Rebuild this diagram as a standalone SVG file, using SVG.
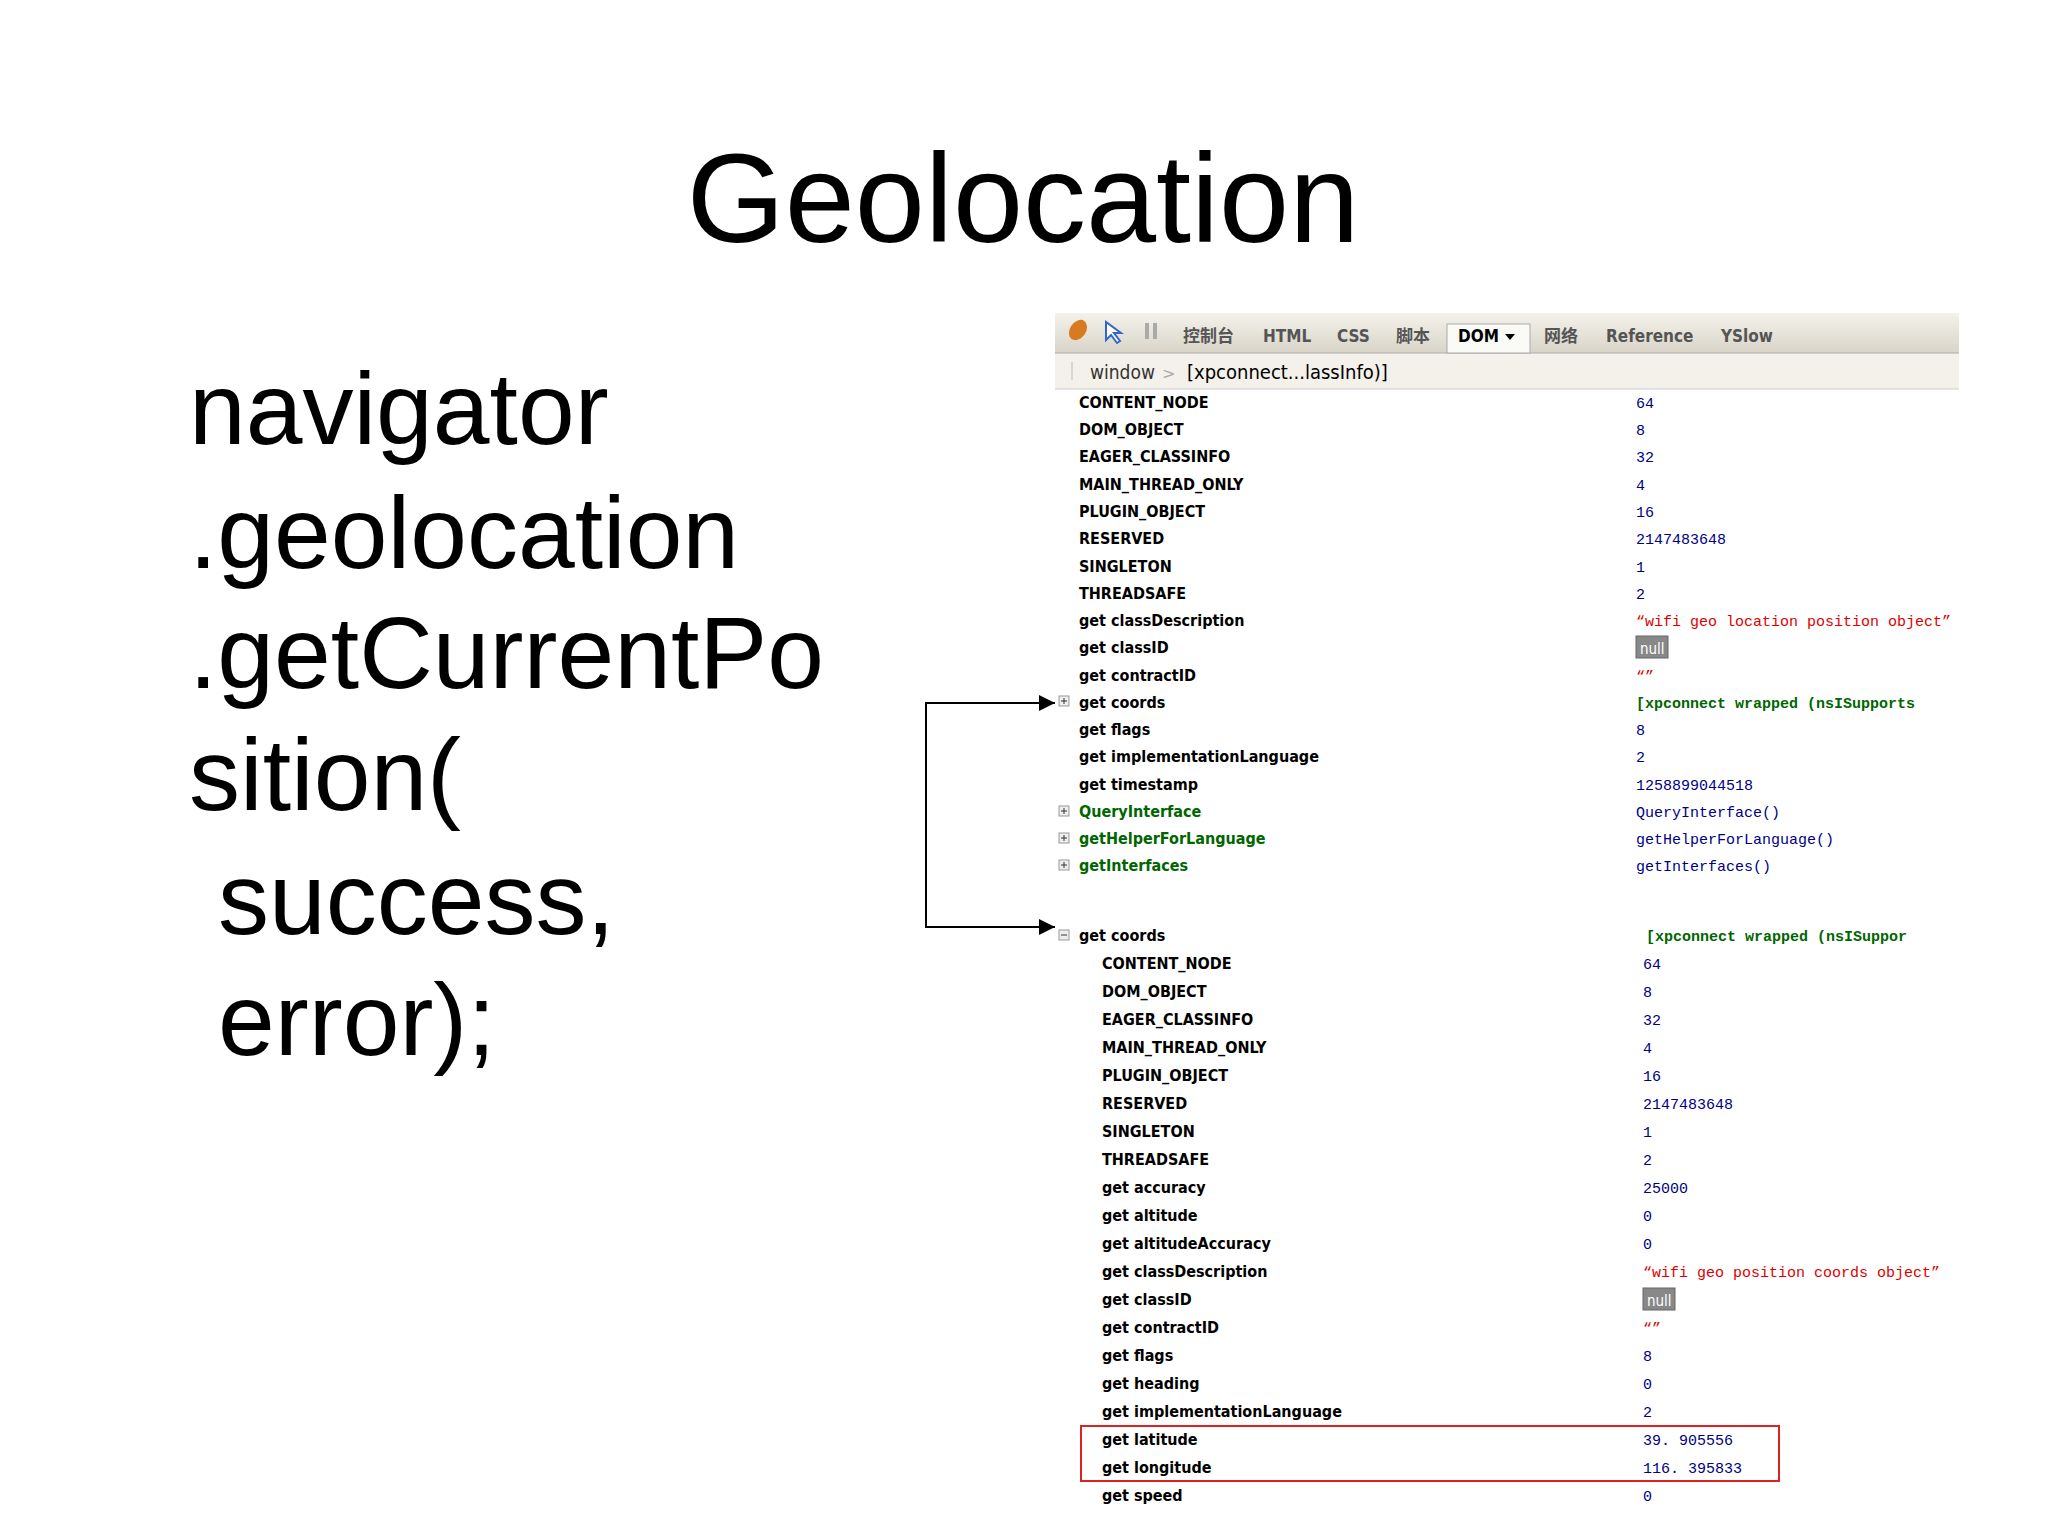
<svg xmlns="http://www.w3.org/2000/svg" width="2048" height="1536" viewBox="0 0 2048 1536">
<style>
.big{font-family:"Liberation Sans",Arial,sans-serif;font-size:102px;fill:#000}
.tb{font-family:"DejaVu Sans Condensed","Noto Sans CJK SC",sans-serif;font-size:17px;font-weight:bold;fill:#555}
.n{font-family:"DejaVu Sans Condensed",sans-serif;font-size:16px;font-weight:bold;fill:#000}
.g{fill:#006600}
.v{font-family:"Liberation Mono",monospace;font-size:15px;fill:#000088}
.vr{fill:#dd0000}
.vg{fill:#006600;font-weight:bold}
.pb{fill:#eee;stroke:#999;stroke-width:1}
.c{stroke:#000;stroke-width:2;fill:none}
</style>
<defs>
<marker id="a" viewBox="0 0 10 10" refX="10" refY="5" markerWidth="16" markerHeight="16" markerUnits="userSpaceOnUse" orient="auto"><path d="M0,0L10,5L0,10z" fill="#000"/></marker>
<linearGradient id="tg" x1="0" y1="0" x2="0" y2="1"><stop offset="0" stop-color="#f4f2ea"/><stop offset="1" stop-color="#d8d4c8"/></linearGradient></defs>
<rect width="2048" height="1536" fill="#fff"/>
<text x="1023" y="242" text-anchor="middle" font-family="Liberation Sans,Arial,sans-serif" font-size="126">Geolocation</text>
<g id="code">
<text class="big" x="189" y="444">navigator</text>
<text class="big" x="189" y="568">.geolocation</text>
<text class="big" x="189" y="688">.getCurrentPo</text>
<text class="big" x="189" y="810">sition(</text>
<text class="big" x="218" y="934">success,</text>
<text class="big" x="218" y="1055">error);</text>
</g>
<g id="toolbar">
<rect x="1055" y="313" width="904" height="40" fill="url(#tg)"/>
<rect x="1055" y="353" width="904" height="36" fill="#f3f1ea"/>
<line x1="1055" y1="353" x2="1959" y2="353" stroke="#aaa"/>
<line x1="1055" y1="389" x2="1959" y2="389" stroke="#ccc"/>
<ellipse cx="1078" cy="330" rx="8" ry="11" fill="#d87a20" transform="rotate(35 1078 330)"/>
<path d="M1106 322l0 18 5-5 6 8 3-2-6-8 7 0z" fill="#fff" stroke="#3366cc" stroke-width="2"/>
<rect x="1145" y="323" width="4" height="16" fill="#aaa"/><rect x="1153" y="323" width="4" height="16" fill="#aaa"/>
<text class="tb" x="1183" y="342">控制台</text>
<text class="tb" x="1263" y="342">HTML</text>
<text class="tb" x="1337" y="342">CSS</text>
<text class="tb" x="1396" y="342">脚本</text>
<rect x="1447" y="324" width="83" height="29" fill="#fafaf7" stroke="#aaa"/>
<text class="tb" x="1458" y="342" style="fill:#000">DOM</text>
<path d="M1505 334h10l-5 6z" fill="#000"/>
<text class="tb" x="1544" y="342">网络</text>
<text class="tb" x="1606" y="342">Reference</text>
<text class="tb" x="1721" y="342">YSlow</text>
<line x1="1072" y1="362" x2="1072" y2="380" stroke="#bbb"/>
<text x="1090" y="379" font-family="DejaVu Sans Condensed,sans-serif" font-size="19" fill="#333">window</text>
<text x="1162" y="379" font-family="DejaVu Sans,sans-serif" font-size="16" fill="#aaa">&gt;</text>
<text x="1187" y="379" font-family="DejaVu Sans Condensed,sans-serif" font-size="20" font-weight="500" fill="#000">[xpconnect...lassInfo)]</text>
</g>
<g id="list1">
<text class="n" x="1079" y="408">CONTENT_NODE</text><text class="v" x="1636" y="408">64</text>
<text class="n" x="1079" y="435">DOM_OBJECT</text><text class="v" x="1636" y="435">8</text>
<text class="n" x="1079" y="462">EAGER_CLASSINFO</text><text class="v" x="1636" y="462">32</text>
<text class="n" x="1079" y="490">MAIN_THREAD_ONLY</text><text class="v" x="1636" y="490">4</text>
<text class="n" x="1079" y="517">PLUGIN_OBJECT</text><text class="v" x="1636" y="517">16</text>
<text class="n" x="1079" y="544">RESERVED</text><text class="v" x="1636" y="544">2147483648</text>
<text class="n" x="1079" y="572">SINGLETON</text><text class="v" x="1636" y="572">1</text>
<text class="n" x="1079" y="599">THREADSAFE</text><text class="v" x="1636" y="599">2</text>
<text class="n" x="1079" y="626">get classDescription</text><text class="v vr" x="1636" y="626">“wifi geo location position object”</text>
<text class="n" x="1079" y="653">get classID</text><rect x="1636" y="636" width="32" height="22" fill="#888" stroke="#666"/><text x="1640" y="654" font-family="DejaVu Sans Condensed,sans-serif" font-size="15" fill="#fff">null</text>
<text class="n" x="1079" y="681">get contractID</text><text class="v vr" x="1636" y="681">“”</text>
<rect class="pb" x="1059" y="696" width="10" height="10"/><path d="M1061 701h6M1064 698v6" stroke="#333"/>
<text class="n" x="1079" y="708">get coords</text><text class="v vg" x="1636" y="708">[xpconnect wrapped (nsISupports</text>
<text class="n" x="1079" y="735">get flags</text><text class="v" x="1636" y="735">8</text>
<text class="n" x="1079" y="762">get implementationLanguage</text><text class="v" x="1636" y="762">2</text>
<text class="n" x="1079" y="790">get timestamp</text><text class="v" x="1636" y="790">1258899044518</text>
<rect class="pb" x="1059" y="806" width="10" height="10"/><path d="M1061 811h6M1064 808v6" stroke="#333"/>
<text class="n g" x="1079" y="817">QueryInterface</text><text class="v g" x="1636" y="817">QueryInterface()</text>
<rect class="pb" x="1059" y="833" width="10" height="10"/><path d="M1061 838h6M1064 835v6" stroke="#333"/>
<text class="n g" x="1079" y="844">getHelperForLanguage</text><text class="v g" x="1636" y="844">getHelperForLanguage()</text>
<rect class="pb" x="1059" y="860" width="10" height="10"/><path d="M1061 865h6M1064 862v6" stroke="#333"/>
<text class="n g" x="1079" y="871">getInterfaces</text><text class="v g" x="1636" y="871">getInterfaces()</text>
</g>
<g id="list2">
<rect class="pb" x="1059" y="930" width="10" height="10"/><path d="M1061 935h6" stroke="#333"/>
<text class="n" x="1079" y="941">get coords</text><text class="v vg" x="1646" y="941">[xpconnect wrapped (nsISuppor</text>
<text class="n" x="1102" y="969">CONTENT_NODE</text><text class="v" x="1643" y="969">64</text>
<text class="n" x="1102" y="997">DOM_OBJECT</text><text class="v" x="1643" y="997">8</text>
<text class="n" x="1102" y="1025">EAGER_CLASSINFO</text><text class="v" x="1643" y="1025">32</text>
<text class="n" x="1102" y="1053">MAIN_THREAD_ONLY</text><text class="v" x="1643" y="1053">4</text>
<text class="n" x="1102" y="1081">PLUGIN_OBJECT</text><text class="v" x="1643" y="1081">16</text>
<text class="n" x="1102" y="1109">RESERVED</text><text class="v" x="1643" y="1109">2147483648</text>
<text class="n" x="1102" y="1137">SINGLETON</text><text class="v" x="1643" y="1137">1</text>
<text class="n" x="1102" y="1165">THREADSAFE</text><text class="v" x="1643" y="1165">2</text>
<text class="n" x="1102" y="1193">get accuracy</text><text class="v" x="1643" y="1193">25000</text>
<text class="n" x="1102" y="1221">get altitude</text><text class="v" x="1643" y="1221">0</text>
<text class="n" x="1102" y="1249">get altitudeAccuracy</text><text class="v" x="1643" y="1249">0</text>
<text class="n" x="1102" y="1277">get classDescription</text><text class="v vr" x="1643" y="1277">“wifi geo position coords object”</text>
<text class="n" x="1102" y="1305">get classID</text><rect x="1643" y="1288" width="32" height="22" fill="#888" stroke="#666"/><text x="1647" y="1306" font-family="DejaVu Sans Condensed,sans-serif" font-size="15" fill="#fff">null</text>
<text class="n" x="1102" y="1333">get contractID</text><text class="v vr" x="1643" y="1333">“”</text>
<text class="n" x="1102" y="1361">get flags</text><text class="v" x="1643" y="1361">8</text>
<text class="n" x="1102" y="1389">get heading</text><text class="v" x="1643" y="1389">0</text>
<text class="n" x="1102" y="1417">get implementationLanguage</text><text class="v" x="1643" y="1417">2</text>
<text class="n" x="1102" y="1445">get latitude</text><text class="v" x="1643" y="1445">39. 905556</text>
<text class="n" x="1102" y="1473">get longitude</text><text class="v" x="1643" y="1473">116. 395833</text>
<text class="n" x="1102" y="1501">get speed</text><text class="v" x="1643" y="1501">0</text>
<rect x="1081" y="1426" width="698" height="55" fill="none" stroke="#dd2222" stroke-width="2"/>
</g>
<g id="connectors">
<path class="c" d="M1055 703H926V927H1055" marker-end="url(#a)"/>
<path class="c" d="M926 703H1055" marker-end="url(#a)"/>
</g>
</svg>
